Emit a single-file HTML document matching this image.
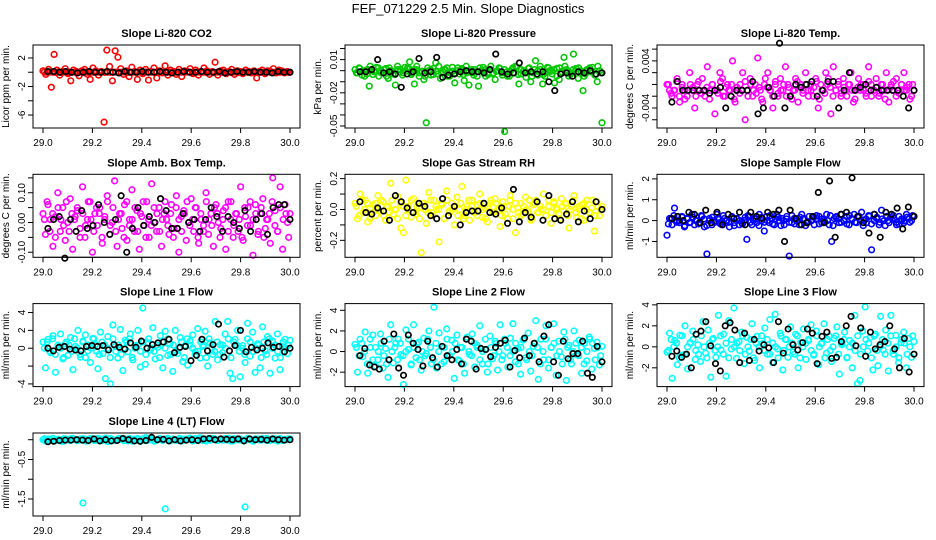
<!DOCTYPE html>
<html><head><meta charset="utf-8"><style>
html,body{margin:0;padding:0;background:#fff;}
svg{display:block;font-family:"Liberation Sans",sans-serif;}
</style></head><body>
<svg id="chart" width="936" height="540" viewBox="0 0 936 540" xmlns="http://www.w3.org/2000/svg">
<text x="468" y="13" text-anchor="middle" font-size="13">FEF_071229  2.5 Min. Slope Diagnostics</text>
</svg>
<script>
// ---- data ----
const xTicks = [29.0, 29.2, 29.4, 29.6, 29.8, 30.0];
const xTickLabels = ["29.0","29.2","29.4","29.6","29.8","30.0"];

const co2Vals = [0.2,-0.3,0.4,-2.1,2.5,0.3,-0.4,0.1,0.5,-0.2,-1.2,0.3,0.1,-0.5,0.2,0.4,-0.3,-1.0,0.6,0.2,-0.4,0.1,-7.0,3.1,0.8,-1.2,3.0,2.1,0.5,-0.3,0.2,-0.6,0.7,0.1,-1.0,0.3,-0.2,0.4,-1.1,0.1,0.6,-0.8,0.2,-0.1,0.9,-0.4,0.3,0.1,-0.3,0.4,-0.6,0.2,0.1,0.5,-0.2,0.3,-0.4,0.1,0.6,0.2,-0.3,0.1,1.4,-0.4,0.2,0.3,-0.2,0.1,0.4,-0.3,0.2,0.1,-0.2,0.3,0.1,-0.1,0.2,-0.8,0.1,0.3,-0.2,0.2,0.1,0.5,-0.1,0.3,0.2,-0.1,0.1,0.0];
const co2Band = [0.1,-0.2,0.3,0,-0.1,0.2,-0.3,0.1,0,0.2,-0.2,0.1,0.3,-0.1,0,0.2,-0.3,0.1,-0.1,0.2,0,0.3,-0.2,0.1,-0.1,0,0.2,-0.2,0.1,0.3,-0.3,0,0.1,-0.1,0.2,0,-0.2,0.3,0.1,-0.1,0,0.2,-0.3,0.1,0,-0.2,0.2,0.1,-0.1,0.3,0,-0.2,0.1,0.2,-0.1,0,0.3,-0.3,0.1,-0.1,0.2,0,-0.2,0.1,0.3,-0.1,0,0.2,-0.2,0.1,0,-0.3,0.2,0.1,-0.1,0.3,0,-0.2,0.1,0.2,-0.1,0,0.2,-0.3,0.1,-0.1,0,0.2,0.1,-0.2];
const co2Black = [0.1,0.1,0,0.1,0,-0.1,0,0.1,0,0,0.1,0,-0.1,0.1,0,0,0.1,0,0,0.1,0,-0.1,0,0.1,0,0,0.1,0,0,0.1,-0.1,0,0.1,0,0,0.1,0,0,-0.1,0.1,0,0];

const presVals = [1,-2,2,-4,0,-3,-14,1,-1,3,-5,0,-2,2,-7,0,-3,-13,1,-1,-4,3,2,8,-2,-12,1,-5,-1,-8,-47,0,-4,2,7,-3,-7,-1,1,-5,-2,3,-11,0,-3,2,-9,-2,-13,1,-4,-1,-14,0,3,-5,-2,1,-3,-8,0,2,-4,-55,-1,-5,1,-2,3,-12,-3,0,-6,2,-10,-2,9,-4,1,-12,-5,3,0,-3,-11,2,-8,-1,12,1,-5,-2,15,2,-7,0,-18,-3,1,-1,3,-4,-10,0,-47];
const presBand = [-1,2,0,-3,1,3,-2,0,2,-1,1,-3,2,0,-2,3,1,-1,0,2,-2,1,3,-1,0,-3,2,1,-2,0,3,-1,1,2,-3,0,-1,2,1,-2,3,0,-1,1,-3,2,0,1,-2,3,-1,0,2,-1,1,-3,0,2,3,-2,1,0,-1,2,-3,1,0,3,-2,-1,2,0,1,-3,2,-1,3,0,-2,1,0,2,-1,-3,1,2,0,-2,3,-1];
const presBlack = [-1,-1,1,10,-2,-1,-3,-15,-3,-1,11,-2,-1,12,-6,-4,-3,-1,0,-1,-1,-2,1,15,-1,-3,-2,7,-2,-1,-3,-1,-10,-18,-3,-2,-5,-1,-2,0,-3,-2];

const tempVals = [0,-1,-2,-1,1,-3,0,-1,-2,2,-1,-4,0,-1,1,-2,3,-1,0,-5,-1,2,1,-2,0,-1,4,-3,-1,0,2,-6,-1,1,-2,0,4.5,-1,-3,1,2,-1,-4,0,-2,1,-1,3,0,-2,-1,1,-3,0,-1,2,-1,0,-2,1,-4,0,-1,2,1,-5,3,-1,0,-2,1,-1,0,2,-3,-1,1,0,-1,-2,3,0,-1,1,-2,0,-1,2,-3,0,-1,1,-1,0,2,-1,0,-2,-1];
const tempBand = [2,-1,0,3,-2,1,-3,0,2,1,-2,3,-1,0,1,-3,2,0,-1,3,-2,1,0,2,-3,1,-1,0,3,-2,2,0,-1,1,-3,2,1,0,-2,3,-1,0,2,-2,1,-3,0,3,1,-1,2,-2,0,1,3,-3,0,-1,2,1,-2,0,3,-1,1,-2,2,0,-3,1,0,2,-1,3,-2,0,1,-1,2,-3,0,1,3,-2,-1,2,0,1,-3,2];
const tempBlack = [-3,0.5,-1,-1,-1,-1,-1,-1.5,-1,-0.5,-4,-2,-1,-1,-1,0.5,-5,-4,-0.5,-2,7,-4,-2,0,-0.5,0,0.5,-2,-1,0.5,0.5,-4,-1,2,-1,-0.5,0,-1,-0.5,-1,-1,-1,-1,-2,-4,-1];

const ambVals = [3,-4,6,1,-8,2,10,-3,5,-6,0,8,-9,2,4,-2,12,-5,1,7,-10,3,-1,5,-7,2,9,-4,0,14,-8,3,-2,6,-6,1,11,-3,4,-9,2,-1,7,-5,13,0,-3,5,-8,3,1,-4,6,-2,9,-10,2,4,-6,0,8,-3,5,-7,1,-1,10,-4,3,-8,6,0,-2,4,-9,7,1,-5,3,-3,12,-6,2,5,-1,-11,6,-4,3,8,-2,1,-7,15,4,-3,12,-9,6,0,3];
const ambBand = [0,3,-2,1,-3,2,0,-1,3,-2,1,0,2,-3,1,-1,3,0,-2,2,1,-3,0,3,-1,2,-2,0,1,-3,3,-1,0,2,-2,1,3,-3,0,-1,2,1,-2,0,3,-1,1,-3,2,0,-2,1,3,-1,0,2,-3,1,-2,3,0,-1,2,1,-3,0,2,-2,3,-1,1,0,-3,2,-1,3,0,1,-2,2,-3,0,1,3,-1,-2,2,0,1,-3];
const ambBlack = [-2,1,2,-12,1,-3,4,-2,-1,6,0,-4,1,9,-10,-2,5,-1,2,0,8,4,-2,-2,3,0,1,-3,1,5,2,-3,2,0,-2,4,-3,1,3,-4,5,6,6,1];

const rhVals = [4,-6,10,-2,6,-8,1,3,-4,9,-1,5,-7,2,17,-3,0,8,-12,-15,19,2,-5,7,-3,1,-28,4,-9,11,-2,6,0,-21,3,-6,12,-1,4,-10,8,0,15,-4,2,-7,6,-1,3,10,-5,1,-8,4,-2,7,0,-11,5,-3,2,9,-6,-15,1,4,-3,8,-1,-7,3,6,-2,0,10,-4,2,-9,5,1,-3,7,-1,4,-12,2,9,-5,0,3,-7,6,-2,1,-14,5,-4,2];
const rhBand = [1,-2,3,0,2,-3,-1,2,0,3,-2,1,-1,3,0,-3,2,1,-2,0,3,-1,1,-3,2,0,-1,3,-2,1,0,2,-3,3,-1,0,1,-2,2,-3,0,3,1,-1,-2,2,0,-3,1,3,-1,2,0,-2,1,-3,3,0,2,-1,-2,1,0,3,-3,2,-1,1,0,-2,3,-1,2,0,-3,1,2,-2,0,3,-1,1,-3,2,0,-1,3,-2,1,0];
const rhBlack = [5,-2,-3,1,-1,-7,9,5,1,-2,4,2,-4,-6,7,-4,2,-10,-2,-1,-1,4,-2,-3,1,-9,13,-8,-2,-5,5,-7,9,-6,-7,-3,5,-8,-1,-6,5,0];

const sampVals = [-0.7,0.1,-0.2,0.6,0.0,-0.1,0.2,-0.3,0.1,-0.1,0.3,-0.2,0.0,-0.1,0.2,-0.3,-1.6,0.1,-0.2,0.0,0.3,-0.1,-0.2,0.1,0.0,-0.3,0.2,-0.1,0.1,-0.2,-0.1,0.0,-0.9,0.2,-0.2,0.1,-0.1,0.3,0.0,-0.5,0.2,-0.1,0.1,-0.2,0.3,0.0,0.1,-0.2,0.2,-1.7,-0.1,0.1,0.0,-0.2,0.3,0.1,-0.1,0.2,0.0,-0.2,0.1,0.2,-0.1,0.0,0.3,-0.2,-1.0,0.1,0.2,-0.1,0.3,0.0,0.2,-0.2,0.1,0.3,-0.1,0.2,0.4,0.0,-0.1,0.2,-1.4,0.3,0.1,-0.2,0.5,0.0,0.2,-0.1,0.3,0.1,-0.2,0.2,0.0,-0.1,0.3,0.1,0.0,0.2];
const sampBand = [-2,1,3,-1,0,2,-3,1,-1,2,0,-2,3,1,-3,0,2,-1,1,-2,3,0,-1,2,-3,1,0,-2,2,3,-1,0,1,-3,2,-1,0,3,-2,1,2,-3,0,1,-1,3,-2,0,2,1,-3,-1,0,2,3,-2,1,-1,0,3,-3,2,1,-1,0,-2,3,1,-1,2,0,-3,1,3,-2,0,2,-1,1,-3,0,2,3,-1,-2,1,0,2,-1,3];
const sampBlack = [0.1,0.2,0.0,0.4,0.3,-0.1,0.5,-0.1,0.4,-0.2,0.3,0.1,0.4,-0.2,0.4,0.2,0.1,0.4,0.3,0.5,-1.0,0.5,0.1,-0.2,-0.1,0.2,1.35,-0.1,1.9,-0.8,0.3,0.4,2.05,0.2,-0.1,-0.6,0.3,-0.8,0.4,0.3,0.6,-0.4,0.65,0.2];

const l1Vals = [0.7,-2.2,1.0,-0.5,1.4,-2.7,0.3,1.6,-1.2,0.5,-0.8,1.2,-2.4,0.2,2.0,-1.0,0.8,1.5,-0.3,-1.6,1.1,0.4,-2.3,1.8,-0.6,-3.4,1.3,-4.0,2.6,0.2,-1.1,2.1,-2.5,0.9,-0.4,1.6,-1.3,0.3,2.0,-2.1,4.5,-1.8,0.6,-0.2,2.3,-1.2,0.1,1.4,-2.2,1.9,-0.8,0.5,-2.6,2.0,-0.6,1.2,-1.5,0.3,-1.9,0.8,1.5,-0.4,2.2,-1.1,0.2,1.9,-2.0,0.6,-0.7,3.0,-1.3,0.4,-0.5,1.6,3.0,-2.8,-3.4,1.0,2.0,-3.2,0.3,-1.6,2.8,-0.9,1.8,-2.7,0.5,-2.2,2.4,-0.3,1.3,-2.8,0.8,-1.1,1.6,-2.4,0.2,1.0,-0.6,0.9];
const l1Band = [0,2,-1,3,-2,1,0,-3,2,1,-1,3,0,-2,2,-3,1,0,3,-1,-2,2,1,0,-3,3,-1,1,-2,0,2,3,-3,0,1,-1,2,-2,3,0,-1,1,-3,2,0,3,-2,1,-1,0,2,-3,3,1,0,-2,-1,2,1,-3,3,0,-1,2,-2,1,0,3,-3,2,1,-1,0,-2,3,2,-1,0,1,-3,2,-2,3,0,1,-1,-3,2,0,1];
const l1Black = [0,-0.3,0.1,0.2,-0.1,-0.2,-0.3,0.2,0.3,0.2,0.3,-0.2,0.4,0.1,-0.1,0.6,0.1,0.8,0,0.4,0.6,0.7,1.0,-0.5,0.1,0.2,-1.4,-0.8,1.0,-0.3,0.4,2.7,-1.0,-0.3,0.3,2.0,-0.4,0.1,-0.2,0,0.6,0.1,0.2,-0.4,0];

const l2Vals = [0.7,-2.0,1.2,-0.5,1.9,-2.1,0.4,1.6,-1.4,-0.8,1.7,-1.6,0.3,-2.5,2.6,-1.1,0.8,1.2,-0.3,-3.2,2.1,0.2,-1.3,2.6,-0.6,0.9,-1.8,1.3,-0.2,2.0,-1.2,4.3,-1.6,1.8,0.5,-1.0,2.2,-0.4,1.1,-2.6,1.6,-0.9,0.4,-2.1,1.4,-0.3,1.7,-1.5,0.6,2.5,-1.2,0.2,-2.0,1.5,-0.7,1.0,-1.8,2.6,-0.4,0.8,-1.5,1.3,2.7,-1.0,0.3,-2.2,1.1,-0.6,1.8,-1.9,0.5,3.0,-2.7,1.2,-0.8,2.5,-1.6,0.4,2.7,-2.3,1.0,-0.5,1.9,-2.8,0.6,-1.2,2.0,-0.3,1.1,-2.1,0.8,-0.9,1.4,-1.7,0.3,0.9,-1.3,0.5];
const l2Band = [1,-1,2,0,-3,3,-2,1,0,2,-1,-3,3,0,1,-2,2,-1,0,3,-3,1,2,-2,0,-1,3,1,-2,2,0,-3,1,3,-1,0,2,-2,1,-3,3,0,-1,2,1,-2,0,3,-3,1,-1,2,0,-2,3,1,-1,0,2,-3,1,3,-2,0,-1,2,1,-3,0,3,-2,1,2,-1,0,-3,3,1,-2,0,2,-1,1,-3,0,3,2,-2,1,-1];
const l2Black = [-0.4,0.3,-1.3,-1.5,-1.7,1.0,-0.8,1.7,-1.6,-2.3,1.6,0.8,0.2,-1.4,1.0,-0.6,-1.5,0.5,-0.4,-0.8,0.2,-1.2,1.2,1.0,-1.7,0.3,0.2,-0.5,0.4,0.8,1.1,-1.5,0.1,-0.6,1.3,-0.4,0.8,-1.0,1.5,2.6,-1.0,-2.3,1.0,-0.7,-0.2,-0.2,1.0,-2.1,-2.5,0.5,-1.0];

const l3Vals = [-0.5,1.3,-3.0,0.6,-1.7,1.1,-0.8,2.0,-2.1,0.4,1.5,-1.2,0.2,-1.4,2.4,-0.6,1.6,-2.9,0.8,-1.0,3.0,-0.3,1.2,-2.8,2.5,-0.2,3.7,-1.1,0.5,1.4,-1.6,0.9,-0.4,2.2,-1.3,1.0,-2.0,0.3,1.8,-0.7,2.6,-1.5,3.1,-0.2,1.3,-2.2,0.7,-1.0,1.9,-0.5,1.2,-2.0,0.4,1.7,-1.2,0.6,2.1,-0.8,1.5,-1.7,0.3,2.2,-0.6,1.0,-1.4,0.8,1.9,-2.6,0.2,1.4,-1.0,0.6,-2.0,3.0,-3.5,-3.2,1.5,3.8,-0.4,0.9,-2.2,1.2,-1.8,2.9,-0.3,1.6,-2.3,3.0,-0.7,1.1,-1.5,0.4,1.4,-2.0,0.8,-1.0,0.5];
const l3Band = [-1,2,0,1,-3,3,-2,0,1,2,-1,-2,3,0,-3,1,2,-1,0,3,-2,1,-3,2,0,1,-1,3,-2,0,2,-3,1,0,3,-1,2,-2,1,0,-3,3,-1,2,0,1,-2,3,-3,0,1,2,-1,-2,3,0,1,-3,2,-1,0,3,-2,1,2,-3,0,1,-1,3,-2,0,2,1,-3,3,-1,0,2,-2,1,3,-1,0,-3,2,1,-2,0,3];
const l3Black = [-0.9,-0.4,-1.0,-0.7,-2.0,1.2,1.5,2.4,0.1,-1.6,-2.3,2.0,2.3,1.6,-1.5,1.3,-1.3,0.7,-0.4,0.2,-0.1,-1.5,2.4,-0.6,1.7,0.2,-0.3,0.4,1.7,1.3,-1.6,1.0,1.4,-1.1,-1.0,0.5,2.0,2.9,0.1,1.8,-0.9,1.4,-0.2,0.2,0.5,2.0,-0.2,-2.0,0.8,-2.4,-0.7];

const l4Vals = [0.0,-0.03,0.02,-0.01,0.03,-0.02,0.01,0.0,-0.04,0.02,0.01,-0.02,0.03,0.0,-0.01,0.02,-1.6,0.01,-0.03,0.02,0.0,-0.02,0.03,-0.01,0.01,0.04,-0.05,0.02,0.0,-0.02,0.01,0.03,-0.01,0.02,-0.03,0.0,0.01,-0.02,0.03,-0.04,0.02,0.05,-0.01,0.0,0.02,-0.03,0.01,0.03,-0.02,-1.75,0.01,-0.01,0.02,0.0,-0.02,0.03,0.01,-0.01,0.02,0.04,-0.03,0.0,0.01,0.05,-0.02,0.02,0.0,-0.01,0.03,0.01,-0.02,0.02,0.0,0.03,-0.01,0.02,-0.03,0.01,0.0,0.02,-0.01,-1.7,0.03,0.0,-0.02,0.01,0.02,-0.01,0.03,0.0,-0.02,0.01,0.02,-0.01,0.0,0.03,-0.02,0.01,0.0,0.02];
const l4Band = [2,-1,0,3,-2,1,-3,2,0,-1,3,1,-2,0,2,-3,1,3,-1,0,2,-2,1,-3,3,0,-1,2,1,-2,0,3,-3,1,2,-1,0,-2,3,1,-3,0,2,-1,1,3,-2,0,-1,2,-3,1,0,3,-2,2,-1,0,1,-3,3,0,2,-2,1,-1,0,3,-3,2,1,0,-1,-2,3,1,-3,2,0,-1,1,3,-2,0,2,-3,1,-1,0,2];
const l4Black = [-0.05,-0.04,-0.02,-0.01,-0.01,0.0,-0.01,-0.02,0.02,-0.03,0.0,-0.03,-0.02,0.03,0.0,-0.03,-0.04,-0.02,0.06,0.0,0.01,-0.03,0.0,-0.03,-0.01,0.0,-0.02,0.02,0.03,0.0,0.02,0.01,0.0,0.02,-0.03,0.02,0.0,0.01,-0.01,0.02,0.0,-0.01,0.0];

// tick values and labels (ticks in real units)
const co2Ticks=[2,0,-2,-4,-6], co2Labels=["2","","-2","","-6"];
const presTicks=[0.02,0.01,0,-0.01,-0.02,-0.03,-0.04,-0.05], presLabels=["","0.01","","","-0.02","","","-0.05"];
const tempTicks=[0.006,0.004,0.002,0,-0.002,-0.004,-0.006], tempLabels=["","0.004","","","","-0.004",""];
const ambTicks=[0.15,0.10,0.05,0,-0.05,-0.10], ambLabels=["","0.10","","0.00","","-0.10"];
const rhTicks=[0.2,0.1,0,-0.1,-0.2], rhLabels=["0.2","","0.0","","-0.2"];
const sampTicks=[2,1,0,-1], sampLabels=["2","1","0","-1"];
const l1Ticks=[4,2,0,-2,-4], l1Labels=["4","2","0","","-4"];
const l2Ticks=[4,2,0,-2], l2Labels=["4","2","0","-2"];
const l3Ticks=[4,2,0,-2], l3Labels=["4","2","0","-2"];
const l4Ticks=[0,-0.5,-1.0,-1.5], l4Labels=["","-0.5","","-1.5"];

// ---- layout ----
const colLeft=[33,345,657], rowTop=[45,174.3,303.6,433], boxW=267, boxH=83;
const panels=[
 {name:"co2",title:"Slope Li-820 CO2",ylab:"Licor ppm per min.",color:"#ff0000",vals:co2Vals,band:co2Band,blk:co2Black,ticks:co2Ticks,labels:co2Labels,top:3.82,bot:-7.82,scale:1,bu:1,bc:0,c:0,r:0},
 {name:"pressure",title:"Slope Li-820 Pressure",ylab:"kPa per min.",color:"#00c800",vals:presVals,band:presBand,blk:presBlack,ticks:presTicks,labels:presLabels,top:0.0232,bot:-0.0518,scale:0.001,bu:0.0015,bc:-0.0005,c:1,r:0},
 {name:"li820-temp",title:"Slope Li-820 Temp.",ylab:"degrees C per min.",color:"#ff00ff",vals:tempVals,band:tempBand,blk:tempBlack,ticks:tempTicks,labels:tempLabels,top:0.0067,bot:-0.0074,scale:0.001,bu:0.0005,bc:-0.001,c:2,r:0},
 {name:"amb-box-temp",title:"Slope Amb. Box Temp.",ylab:"degrees C per min.",color:"#ff00ff",vals:ambVals,band:ambBand,blk:ambBlack,ticks:ambTicks,labels:ambLabels,top:0.162,bot:-0.117,scale:0.01,bu:0.02,bc:0.01,c:0,r:1},
 {name:"gas-stream-rh",title:"Slope Gas Stream RH",ylab:"percent per min.",color:"#ffff00",vals:rhVals,band:rhBand,blk:rhBlack,ticks:rhTicks,labels:rhLabels,top:0.228,bot:-0.31,scale:0.01,bu:0.02,bc:0,c:1,r:1},
 {name:"sample-flow",title:"Slope Sample Flow",ylab:"ml/min per min.",color:"#0000ff",vals:sampVals,band:sampBand,blk:sampBlack,ticks:sampTicks,labels:sampLabels,top:2.22,bot:-1.76,scale:1,bu:0.08,bc:0,c:2,r:1},
 {name:"line1-flow",title:"Slope Line 1 Flow",ylab:"ml/min per min.",color:"#00ffff",vals:l1Vals,band:l1Band,blk:l1Black,ticks:l1Ticks,labels:l1Labels,top:5.0,bot:-4.3,scale:1,bu:0.35,bc:0,c:0,r:2},
 {name:"line2-flow",title:"Slope Line 2 Flow",ylab:"ml/min per min.",color:"#00ffff",vals:l2Vals,band:l2Band,blk:l2Black,ticks:l2Ticks,labels:l2Labels,top:4.65,bot:-3.4,scale:1,bu:0.4,bc:0,c:1,r:2},
 {name:"line3-flow",title:"Slope Line 3 Flow",ylab:"ml/min per min.",color:"#00ffff",vals:l3Vals,band:l3Band,blk:l3Black,ticks:l3Ticks,labels:l3Labels,top:4.12,bot:-3.79,scale:1,bu:0.35,bc:0,c:2,r:2},
 {name:"line4-flow",title:"Slope Line 4 (LT) Flow",ylab:"ml/min per min.",color:"#00ffff",vals:l4Vals,band:l4Band,blk:l4Black,ticks:l4Ticks,labels:l4Labels,top:0.17,bot:-1.93,scale:1,bu:0.012,bc:0,c:0,r:3}
];
panels[0].bu=0.1;

const NS="http://www.w3.org/2000/svg";
const svg=document.getElementById('chart');
function mk(tag,attrs,parent){const e=document.createElementNS(NS,tag);for(const k in attrs)e.setAttribute(k,attrs[k]);(parent||svg).appendChild(e);return e;}

panels.forEach(p=>{
  const L=colLeft[p.c], T=rowTop[p.r], B=T+boxH;
  const xs=x=>L+10+(x-29)*247;
  const ys=v=>T+(p.top-v)/(p.top-p.bot)*boxH;
  const g=mk('g',{});
  
  
  const t=mk('text',{x:L+boxW/2,y:T-8,'text-anchor':'middle','font-size':11,'font-weight':'bold'},g);
  t.textContent=p.title;
  
  
  const yl=mk('text',{x:0,y:0,'text-anchor':'middle','font-size':10,transform:`translate(${L-24},${T+boxH/2}) rotate(-90)`},g);
  yl.textContent=p.ylab;
  
  
  // y axis
  const yAx=mk('g',{},g);
  
  
  const ty=p.ticks.map(v=>ys(v));
  mk('line',{x1:L,x2:L,y1:Math.min(...ty),y2:Math.max(...ty),stroke:'#000','stroke-width':1},yAx);
  p.ticks.forEach((v,i)=>{
    const y=ys(v);
    mk('line',{x1:L-5,x2:L,y1:y,y2:y,stroke:'#000','stroke-width':1},yAx);
    if(p.labels[i]){
      const lt=mk('text',{x:0,y:0,'text-anchor':'middle','font-size':10,transform:`translate(${L-8},${y}) rotate(-90)`},yAx);
      lt.textContent=p.labels[i];
      
      
    }
  });
  // x axis
  const xAx=mk('g',{},g);
  
  
  mk('line',{x1:xs(29),x2:xs(30),y1:B,y2:B,stroke:'#000','stroke-width':1},xAx);
  xTicks.forEach((v,i)=>{
    const x=xs(v);
    mk('line',{x1:x,x2:x,y1:B,y2:B+5,stroke:'#000','stroke-width':1},xAx);
    const lt=mk('text',{x:x,y:B+18,'text-anchor':'middle','font-size':10},xAx);
    lt.textContent=xTickLabels[i];
    
    
  });
  // colored points
  const pts=mk('g',{fill:'none',stroke:p.color,'stroke-width':1.6},g);
  
  
  const nb=p.band.length;
  p.band.forEach((v,i)=>{
    const c=mk('circle',{cx:xs(29+(i+0.5)/nb),cy:ys(p.bc+v*p.bu),r:2.8},pts);
    
    
  });
  const n=p.vals.length;
  p.vals.forEach((v,i)=>{
    const c=mk('circle',{cx:xs(29+i/(n-1)),cy:ys(v*p.scale),r:2.8},pts);
    
    
  });
  const bp=mk('g',{fill:'none',stroke:'#000','stroke-width':1.7},g);
  
  
  const m=p.blk.length;
  p.blk.forEach((v,i)=>{
    const c=mk('circle',{cx:xs(29.02+0.98*i/(m-1)),cy:ys(v*p.scale),r:2.7},bp);
    
    
  });
  const box=mk('rect',{x:L,y:T,width:boxW,height:boxH,fill:'none',stroke:'#000','stroke-width':1},g);
  
  
});
</script>
</body></html>
